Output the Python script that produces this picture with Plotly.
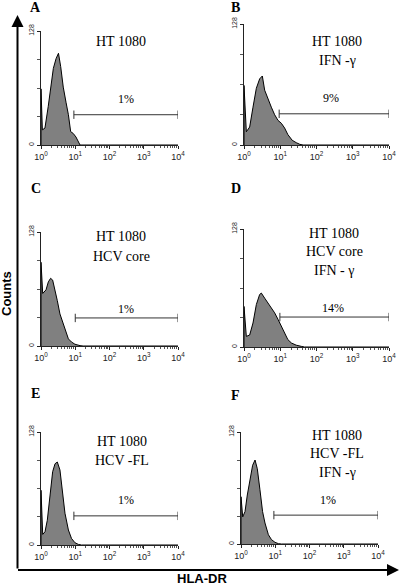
import plotly.graph_objects as go

# ---------------- data (log10 fluorescence decades, counts) ----------------
panels = ["A", "B", "C", "D", "E", "F"]

A_dec = [0, 0, 0.04, 0.115, 0.21, 0.28, 0.36, 0.44, 0.51, 0.575, 0.65, 0.73, 0.80, 0.866, 0.94, 1.02, 1.09, 1.14, 4]
A_cnt = [0, 63, 17, 19, 43, 65, 86, 97, 103, 88, 65, 48, 34, 15, 13, 9, 4, 0, 0]

B_dec = [0, 0, 0.064, 0.156, 0.248, 0.34, 0.432, 0.506, 0.57, 0.662, 0.754, 0.846, 0.938, 1.03, 1.12, 1.21, 1.33, 1.44, 1.54, 1.63, 4]
B_cnt = [0, 63, 14, 19, 40, 60, 70, 73, 58, 48, 40, 32, 26, 23, 18, 11, 5, 2.5, 0.7, 0, 0]

C_dec = [0, 0, 0.05, 0.146, 0.214, 0.28, 0.34, 0.41, 0.476, 0.553, 0.63, 0.70, 0.80, 0.89, 0.99, 1.14, 1.23, 4]
C_cnt = [0, 94, 59, 63, 72, 76, 74, 63, 51, 36, 27, 18, 8, 4.5, 2, 0.4, 0, 0]

D_dec = [0, 0, 0.064, 0.156, 0.248, 0.34, 0.432, 0.478, 0.57, 0.662, 0.754, 0.846, 0.938, 1.03, 1.12, 1.21, 1.31, 1.44, 1.58, 1.67, 4]
D_cnt = [0, 44, 11.5, 13, 26, 46, 57, 58.5, 53, 48, 42, 37, 30, 22, 15, 8, 4.3, 2, 0.7, 0, 0]

E_dec = [0, 0, 0.05, 0.117, 0.184, 0.262, 0.34, 0.41, 0.476, 0.553, 0.63, 0.70, 0.80, 0.89, 0.99, 1.09, 1.18, 4]
E_cnt = [0, 62, 12, 15, 28, 58, 83, 92, 94, 85, 60, 36, 17, 7.5, 2.6, 0.7, 0, 0]

F_dec = [0, 0, 0.05, 0.117, 0.184, 0.262, 0.34, 0.41, 0.476, 0.553, 0.63, 0.70, 0.80, 0.89, 0.99, 1.09, 1.18, 4]
F_cnt = [0, 54, 31, 37, 56, 73, 90, 96, 86, 62, 37, 24, 10.6, 5, 2, 0.4, 0, 0]

# gate: start decade, end decade, count level
gate_start = [0.96, 0.97, 1.0, 0.99, 0.96, 0.96]
gate_end = [4, 4, 4, 4, 4, 4]
gate_level = [34, 33, 31.5, 32.5, 33, 33]

percent_labels = ["1%", "9%", "1%", "14%", "1%", "1%"]
sample_labels = [
    ["HT 1080"],
    ["HT 1080", "IFN -γ"],
    ["HT 1080", "HCV core"],
    ["HT 1080", "HCV core", "IFN - γ"],
    ["HT 1080", "HCV -FL"],
    ["HT 1080", "HCV -FL", "IFN -γ"],
]

x_tick_vals = [1, 10, 100, 1000, 10000]
x_tick_text = ["10<sup>0</sup>", "10<sup>1</sup>", "10<sup>2</sup>", "10<sup>3</sup>", "10<sup>4</sup>"]
y_tick_vals = [0, 128]
y_tick_text = ["0", "128"]

decs = [A_dec, B_dec, C_dec, D_dec, E_dec, F_dec]
cnts = [A_cnt, B_cnt, C_cnt, D_cnt, E_cnt, F_cnt]

# ---------------- layout (pixel geometry) ----------------
W, H = 400, 588
def px(x):
    return x / W
def py(y):
    return 1 - y / H

boxes = [
    (41, 178, 31, 145),
    (244, 389, 24, 145),
    (41, 178, 232, 346),
    (244, 389, 229, 347),
    (41, 178, 432, 545),
    (241, 378, 432, 544),
]
letter_pos = [(35.7, 7.5), (235.7, 7.5), (35.7, 188.5), (235.7, 188.5), (35.7, 393), (235.5, 395)]
sample_pos = [
    (121, [42]),
    (337, [42, 60]),
    (121, [236, 256.5]),
    (334, [233, 251.7, 270]),
    (122, [441.7, 460.5]),
    (337, [435, 453, 472]),
]
pct_pos = [(126, 98.5), (331, 97.5), (126, 308.5), (333, 307.5), (126, 500.3), (328, 500)]

fig = go.Figure()
layout = dict(
    width=W, height=H, autosize=False,
    margin=dict(l=0, r=0, t=0, b=0, pad=0),
    paper_bgcolor="white", plot_bgcolor="white",
    showlegend=False,
)
annotations = []
serif = "Liberation Serif, Times New Roman, serif"
sans = "Liberation Sans, Arial, sans-serif"

for i, p in enumerate(panels):
    n = "" if i == 0 else str(i + 1)
    xa, ya = "x" + n, "y" + n
    l, r, t, b = boxes[i]
    layout["xaxis" + n] = dict(
        type="log", range=[0, 4], domain=[px(l), px(r)], anchor=ya,
        tickvals=x_tick_vals, ticktext=x_tick_text,
        ticks="outside", ticklen=3, tickwidth=1, tickcolor="#222",
        minor=dict(ticks="outside", ticklen=2, tickwidth=1, tickcolor="#555", dtick="D1"),
        showline=True, linecolor="#222", linewidth=1,
        showgrid=False, zeroline=False, automargin=False,
        tickfont=dict(family=sans, size=9, color="#222"),
        fixedrange=True,
    )
    layout["yaxis" + n] = dict(
        range=[0, 128], domain=[py(b), py(t)], anchor=xa,
        tickvals=y_tick_vals, ticktext=y_tick_text, tickangle=-90,
        ticks="outside", ticklen=3, tickwidth=1, tickcolor="#222",
        minor=dict(ticks="outside", ticklen=3, tickwidth=1, tickcolor="#555", dtick=32),
        showline=True, linecolor="#222", linewidth=1,
        showgrid=False, zeroline=False, automargin=False,
        tickfont=dict(family=sans, size=7, color="#222"),
        fixedrange=True,
    )
    fig.add_trace(go.Scatter(
        x=[10 ** d for d in decs[i]], y=cnts[i], mode="lines",
        line=dict(color="black", width=1), fill="tozeroy", fillcolor="#808080",
        xaxis=xa, yaxis=ya, hoverinfo="skip",
    ))
    fig.add_trace(go.Scatter(
        x=[10 ** gate_start[i], 10 ** gate_end[i]], y=[gate_level[i], gate_level[i]],
        mode="lines+markers", line=dict(color="#333", width=1),
        marker=dict(symbol="line-ns", size=6, line=dict(color="#333", width=1)),
        xaxis=xa, yaxis=ya, hoverinfo="skip",
    ))
    lx, ly = letter_pos[i]
    annotations.append(dict(text="<b>" + p + "</b>", x=px(lx), y=py(ly), xref="paper", yref="paper",
                            showarrow=False, xanchor="center", yanchor="middle",
                            font=dict(family=serif, size=14, color="black")))
    sx, sys_ = sample_pos[i]
    for txt, yy in zip(sample_labels[i], sys_):
        annotations.append(dict(text=txt, x=px(sx), y=py(yy), xref="paper", yref="paper",
                                showarrow=False, xanchor="center", yanchor="middle",
                                font=dict(family=serif, size=14, color="black")))
    qx, qy = pct_pos[i]
    annotations.append(dict(text=percent_labels[i], x=px(qx), y=py(qy), xref="paper", yref="paper",
                            showarrow=False, xanchor="center", yanchor="middle",
                            font=dict(family=serif, size=12, color="black")))

annotations.append(dict(text="", x=px(17.5), y=py(15), xref="paper", yref="paper",
                        showarrow=True, ax=0, ay=570 - 15, axref="pixel", ayref="pixel",
                        arrowhead=2, arrowsize=1.2, arrowwidth=2, arrowcolor="black", standoff=0))
annotations.append(dict(text="", x=px(399.5), y=py(570), xref="paper", yref="paper",
                        showarrow=True, ax=-(399.5 - 16.5), ay=0, axref="pixel", ayref="pixel",
                        arrowhead=2, arrowsize=1.2, arrowwidth=2, arrowcolor="black", standoff=0))
annotations.append(dict(text="<b>Counts</b>", x=px(6.5), y=py(293.5), xref="paper", yref="paper",
                        showarrow=False, textangle=-90, xanchor="center", yanchor="middle",
                        font=dict(family=sans, size=13, color="black")))
annotations.append(dict(text="<b>HLA-DR</b>", x=px(202), y=py(587.5), xref="paper", yref="paper",
                        showarrow=False, xanchor="center", yanchor="bottom",
                        font=dict(family=sans, size=13, color="black")))

layout["annotations"] = annotations
fig.update_layout(**layout)
fig.write_html(
    "out.html",
    config={"responsive": False, "displayModeBar": False},
    post_script="document.documentElement.style.overflow='hidden';document.body.style.margin='0';document.body.style.overflow='hidden';",
)
